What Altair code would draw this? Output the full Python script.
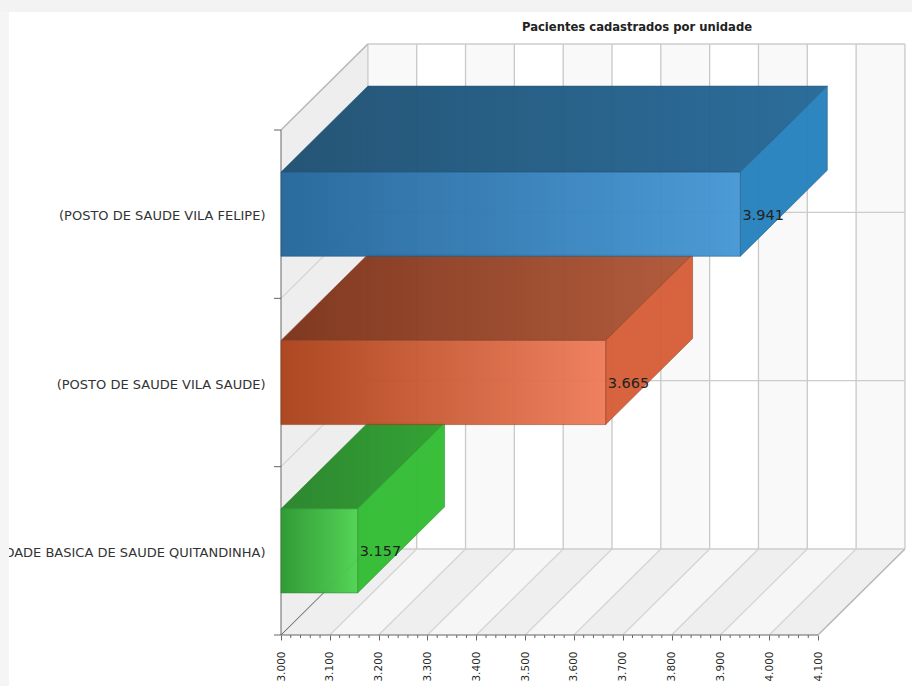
import altair as alt
import pandas as pd

TITLE = "Pacientes cadastrados por unidade"
CATEGORIES = [
    "(UNIDADE BASICA DE SAUDE QUITANDINHA)",
    "(POSTO DE SAUDE VILA SAUDE)",
    "(POSTO DE SAUDE VILA FELIPE)",
]
VALUES = [3157, 3665, 3941]
VALUE_LABELS = ["3.157", "3.665", "3.941"]
X_TICKS = [3000, 3100, 3200, 3300, 3400, 3500, 3600, 3700, 3800, 3900, 4000, 4100]
MINOR_TICKS = [t + m for t in X_TICKS[:-1] for m in (20, 40, 60, 80)]
ROWS = [0, 1, 2, 3]

# colours of each bar: front (dark, light), top (dark, light), side, edge
PALETTE = [
    ("#2a982e", "#4fd352", "#27832a", "#2ba12c", "#32bd33", "#27882a"),
    ("#ab421a", "#ef7c5a", "#7b3218", "#b05636", "#d65e37", "#8a3a1e"),
    ("#24669a", "#4597d5", "#1d4f71", "#246898", "#2582bd", "#1d5478"),
]

WIDTH, HEIGHT = 631, 591
X_MIN, X_MAX = 3000, 4292.5
# oblique depth of the box: shift of the far side along each scale
DX, DY = 178, 0.511
BAR_HALF = 0.25

x_scale = alt.Scale(domain=[X_MIN, X_MAX], nice=False, zero=False)
y_scale = alt.Scale(domain=[0, 3.511], nice=False, zero=False)
x_axis = alt.Axis(
    values=X_TICKS, title=None, grid=False, domain=False,
    tickColor="#666666", tickSize=5, labelAngle=270, labelPadding=11,
    labelFont="DejaVu Sans", labelFontSize=10.5, labelColor="#2a2a2a",
    labelExpr="replace(format(datum.value, ',d'), ',', '.')",
)
y_axis = alt.Axis(
    values=[r + 0.5 for r in ROWS[:-1]], title=None, grid=False, domain=False,
    ticks=False, labelPadding=16, labelLimit=400, labelOffset=1.5,
    labelFont="DejaVu Sans", labelFontSize=13, labelColor="#333333",
    labelExpr="%s[floor(datum.value)]" % str(CATEGORIES),
)
X = alt.X("x:Q", scale=x_scale, axis=x_axis)
Y = alt.Y("y:Q", scale=y_scale, axis=y_axis)


def gradient(left, right):
    return alt.LinearGradient(
        gradient="linear",
        stops=[alt.GradientStop(color=left, offset=0), alt.GradientStop(color=right, offset=1)],
        x1=0, x2=1, y1=0, y2=0,
    )


def vertical_face(x0, x1, bottom0, top0, bottom1, top1, **mark):
    data = pd.DataFrame({"x": [x0, x1], "y": [bottom0, bottom1], "y2": [top0, top1]})
    return alt.Chart(data).mark_area(orient="vertical", **mark).encode(x=X, y=Y, y2="y2:Q")


def horizontal_face(y0, y1, left0, right0, left1, right1, **mark):
    data = pd.DataFrame({"y": [y0, y1], "x": [left0, left1], "x2": [right0, right1]})
    return alt.Chart(data).mark_area(orient="horizontal", **mark).encode(y=Y, x=X, x2="x2:Q")


def segment(x0, y0, x1, y1, color, width=1.0):
    data = pd.DataFrame({"x": [x0, x1], "y": [y0, y1]})
    return alt.Chart(data).mark_line(color=color, strokeWidth=width).encode(x=X, y=Y)


layers = []

# Walls and floor with their alternating bands
layers.append(vertical_face(X_MIN, X_MIN + DX, 0, 3, DY, 3 + DY, color="#eeeeee"))
for i, t in enumerate(X_TICKS[:-1]):
    layers.append(
        vertical_face(t + DX, t + 100 + DX, DY, 3 + DY, DY, 3 + DY,
                      color="#f9f9f9" if i % 2 == 0 else "#ffffff")
    )
    layers.append(
        horizontal_face(0, DY, t, t + 100, t + DX, t + 100 + DX,
                        color="#efefef" if i % 2 == 0 else "#f6f6f6")
    )

# Grid lines
for t in X_TICKS:
    layers.append(segment(t + DX, DY, t + DX, 3 + DY, "#c8c8c8", 1.3))
    layers.append(segment(t, 0, t + DX, DY, "#d4d4d4", 1.2))
for r in ROWS:
    layers.append(segment(X_MIN + DX, r + DY, X_TICKS[-1] + DX, r + DY, "#cccccc", 1.3))
    layers.append(segment(X_MIN, r, X_MIN + DX, r + DY, "#d4d4d4", 1.2))
layers.append(segment(X_MIN, 3, X_MIN + DX, 3 + DY, "#b8b8b8", 1.2))
layers.append(segment(X_TICKS[-1], 0, X_TICKS[-1] + DX, DY, "#b8b8b8", 1.2))
layers.append(segment(X_MIN, 0, X_MIN + DX, DY, "#777777"))

# Axis lines and the ticks the axes leave out
axes_frame = pd.DataFrame({"x": [X_MIN], "x2": [X_TICKS[-1]], "y": [0], "y2": [3]})
layers.append(
    alt.Chart(axes_frame).mark_rule(color="#666666").encode(x=X, y=Y, y2="y2:Q")
)
layers.append(
    alt.Chart(axes_frame).mark_rule(color="#666666").encode(x=X, x2="x2:Q", y=Y)
)
layers.append(
    alt.Chart(pd.DataFrame({"y": ROWS})).mark_rule(color="#666666").encode(
        x=alt.value(-7), x2=alt.value(0), y=Y
    )
)
layers.append(
    alt.Chart(pd.DataFrame({"x": MINOR_TICKS})).mark_rule(color="#666666").encode(
        x=X, y=alt.value(HEIGHT), y2=alt.value(HEIGHT + 3)
    )
)

# Bars: top, side and front faces, each slightly see-through
for row, value, colors in zip(ROWS, VALUES, PALETTE):
    front_l, front_r, top_l, top_r, side, edge = colors
    lo, hi = row + 0.5 - BAR_HALF, row + 0.5 + BAR_HALF
    style = dict(opacity=0.96, stroke=edge, strokeWidth=1, strokeOpacity=0.55)
    layers.append(
        horizontal_face(hi, hi + DY, X_MIN, value, X_MIN + DX, value + DX,
                        color=gradient(top_l, top_r), **style)
    )
    layers.append(
        vertical_face(value, value + DX, lo, hi, lo + DY, hi + DY, color=side, **style)
    )
    layers.append(
        vertical_face(X_MIN, value, lo, hi, lo, hi, color=gradient(front_l, front_r), **style)
    )

# Value labels
labels = pd.DataFrame(
    {"x": VALUES, "y": [r + 0.5 for r in ROWS[:-1]], "label": VALUE_LABELS}
)
layers.append(
    alt.Chart(labels).mark_text(
        align="left", dx=2, dy=1.5, font="DejaVu Sans", fontSize=14.5, color="#222222"
    ).encode(x=X, y=Y, text="label:N")
)

# Page frame around the white panel, above the category labels
layers.append(
    alt.Chart(pd.DataFrame({"a": [0]})).mark_rect(color="#f5f5f5").encode(
        x=alt.value(-281), x2=alt.value(-272), y=alt.value(-44), y2=alt.value(HEIGHT + 51)
    )
)
layers.append(
    alt.Chart(pd.DataFrame({"a": [0]})).mark_rect(color="#f3f3f3").encode(
        x=alt.value(-281), x2=alt.value(WIDTH), y=alt.value(-44), y2=alt.value(-32)
    )
)

# Chart title
layers.append(
    alt.Chart(pd.DataFrame({"title": [TITLE]})).mark_text(
        font="DejaVu Sans", fontSize=11.6, fontWeight="bold", color="#222222",
        align="center", baseline="middle",
    ).encode(x=alt.value(356), y=alt.value(-16.5), text="title:N")
)

chart = alt.layer(*layers).properties(
    width=WIDTH,
    height=HEIGHT,
    padding={"left": 281, "top": 44, "right": 0, "bottom": 51},
    autosize=alt.AutoSizeParams(type="none"),
    background="#ffffff",
).configure_view(stroke=None)

chart.save("out.html", embed_options={"renderer": "svg", "actions": False})
